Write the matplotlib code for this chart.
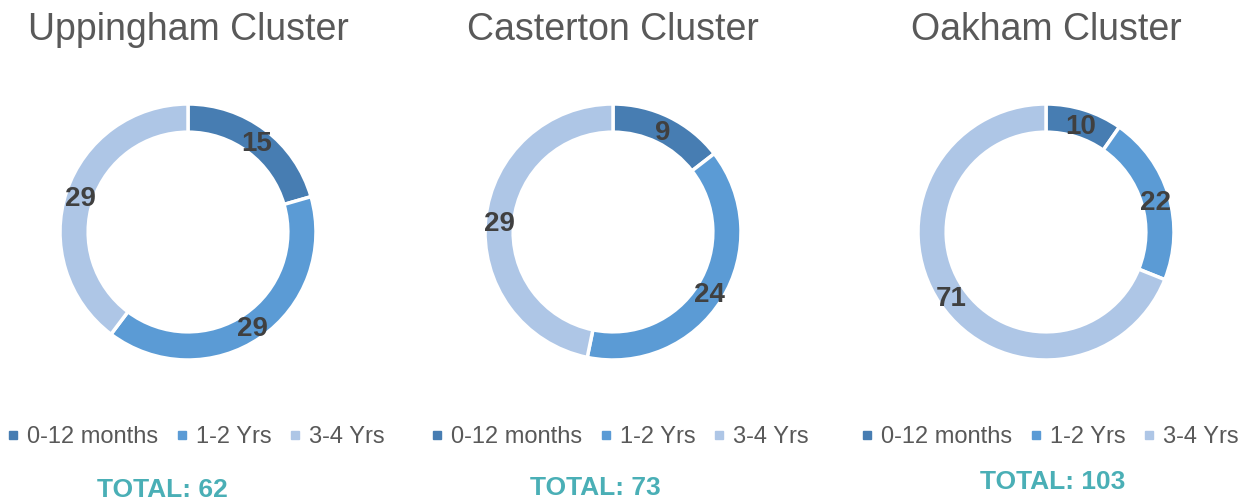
import matplotlib
matplotlib.use("Agg")
import matplotlib.pyplot as plt
import numpy as np
from matplotlib.lines import Line2D

plt.rcParams['font.family'] = ['Liberation Sans', 'DejaVu Sans']

clusters = ["Uppingham Cluster", "Casterton Cluster", "Oakham Cluster"]
categories = ["0-12 months", "1-2 Yrs", "3-4 Yrs"]
values = [
    [15, 29, 29],
    [9, 24, 29],
    [10, 22, 71],
]
totals = [62, 73, 103]
colors = ["#477DB2", "#5B9BD5", "#AEC6E6"]

W, H = 1249, 504
fig = plt.figure(figsize=(W / 100, H / 100), dpi=100)

centers_x = [188, 613, 1046]
center_y = 232
radius = 128
legend_x = [196, 620, 1050]
total_pos = [(162, 490), (595, 488), (1053, 482)]

for k in range(3):
    cx = centers_x[k]
    ax = fig.add_axes([(cx - radius) / W, (H - center_y - radius) / H,
                       2 * radius / W, 2 * radius / H])
    wedges, _ = ax.pie(values[k], colors=colors, radius=1, startangle=90,
                       counterclock=False,
                       wedgeprops=dict(width=0.22, edgecolor='white', linewidth=2.5))
    ax.set_xlim(-1, 1)
    ax.set_ylim(-1, 1)
    ax.set_aspect('auto')
    ax.axis('off')

    # data labels in the middle of each ring segment
    for w, v in zip(wedges, values[k]):
        ang = np.deg2rad((w.theta1 + w.theta2) / 2)
        ax.text(0.89 * np.cos(ang), 0.89 * np.sin(ang) - 0.025, str(v),
                ha='center', va='center', fontsize=20, fontweight='bold',
                color='#404040')

    fig.text(cx / W, 1 - 30 / H, clusters[k], ha='center', va='center',
             fontsize=27, color='#595959')

    handles = [Line2D([], [], marker='s', linestyle='', markersize=6,
                      color=c) for c in colors]
    fig.legend(handles, categories, loc='center', ncol=3, frameon=False,
               bbox_to_anchor=(legend_x[k] / W, 1 - 437 / H),
               fontsize=17, handlelength=0.5, handletextpad=0.35,
               columnspacing=0.75, labelcolor='#595959')

    tx, ty = total_pos[k]
    fig.text(tx / W, 1 - ty / H, f"TOTAL: {totals[k]}", ha='center',
             va='center', fontsize=19, fontweight='bold', color='#4AAFB6')

fig.savefig("out.png", dpi=100)
